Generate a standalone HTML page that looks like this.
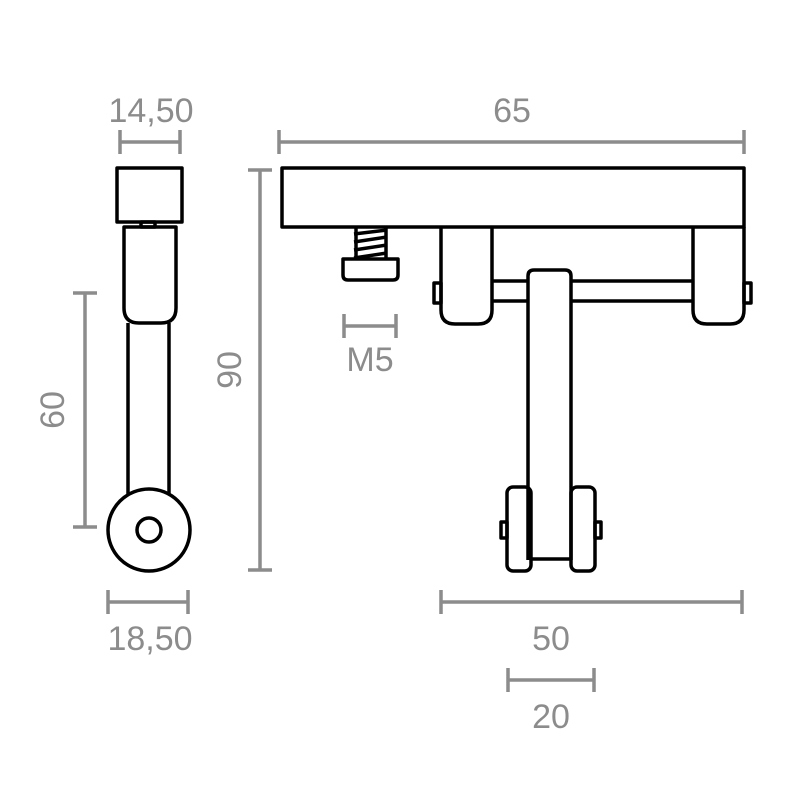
<!DOCTYPE html>
<html><head><style>html,body{margin:0;padding:0;background:#fff}svg{display:block}</style></head><body>
<svg width="800" height="800" viewBox="0 0 800 800" xmlns="http://www.w3.org/2000/svg">
<g fill="none" stroke="#000" stroke-width="3.5" stroke-linejoin="round">
<rect x="117" y="168" width="65" height="54"/>
<rect x="141" y="222" width="14" height="5"/>
<path d="M124 227 H176 V308 Q176 323 161 323 H139 Q124 323 124 308 Z"/>
<path d="M128 323 V495 M169 323 V495"/>
<circle cx="149" cy="530" r="41" fill="#fff"/>
<circle cx="149" cy="530" r="12"/>
<rect x="282" y="168" width="462" height="59"/>
<path d="M356 228 V258 M386 228 V258"/>
<path d="M354 234 L387 230 M354 242 L387 237 M354 250 L387 245 M354 258 L387 253"/>
<path d="M343 259 H398 V275 Q398 280 393 280 H348 Q343 280 343 275 Z"/>
<path d="M441 227 V310 Q441 324 455 324 H478 Q492 324 492 310 V227"/>
<path d="M693 227 V310 Q693 324 707 324 H730 Q744 324 744 310 V227"/>
<path d="M492 281 H528 M571 281 H693 M492 301 H528 M571 301 H693"/>
<rect x="434" y="283" width="7" height="20"/>
<rect x="744" y="283" width="7" height="20"/>
<path d="M528 560 V276 Q528 270 534 270 H565 Q571 270 571 276 V560"/>
<rect x="507" y="487" width="24" height="84" rx="6"/>
<rect x="571" y="487" width="24" height="84" rx="6"/>
<path d="M531 559 H571"/>
<rect x="501" y="522" width="6" height="16"/>
<rect x="595" y="522" width="6" height="16"/>
</g>
<g fill="none" stroke="#8c8c8c" stroke-width="3.5">
<path d="M120 142 H180 M120 130 V154 M180 130 V154"/>
<path d="M279 142 H744 M279 130 V154 M744 130 V154"/>
<path d="M260 170 V570 M248 170 H272 M248 570 H272"/>
<path d="M85 293 V527 M73 293 H97 M73 527 H97"/>
<path d="M108 602 H188 M108 590 V614 M188 590 V614"/>
<path d="M441 602 H742 M441 590 V614 M742 590 V614"/>
<path d="M508 680 H594 M508 668 V692 M594 668 V692"/>
<path d="M344 326 H396 M344 314 V338 M396 314 V338"/>
</g>
<g fill="#8c8c8c" font-family="Liberation Sans, sans-serif" font-size="34" text-anchor="middle">
<text x="151" y="122">14,50</text>
<text x="512" y="122">65</text>
<text x="150" y="650">18,50</text>
<text x="551" y="650">50</text>
<text x="551" y="728">20</text>
<text x="370" y="371">M5</text>
<text transform="translate(241,370) rotate(-90)">90</text>
<text transform="translate(64,410) rotate(-90)">60</text>
</g>
</svg>
</body></html>
